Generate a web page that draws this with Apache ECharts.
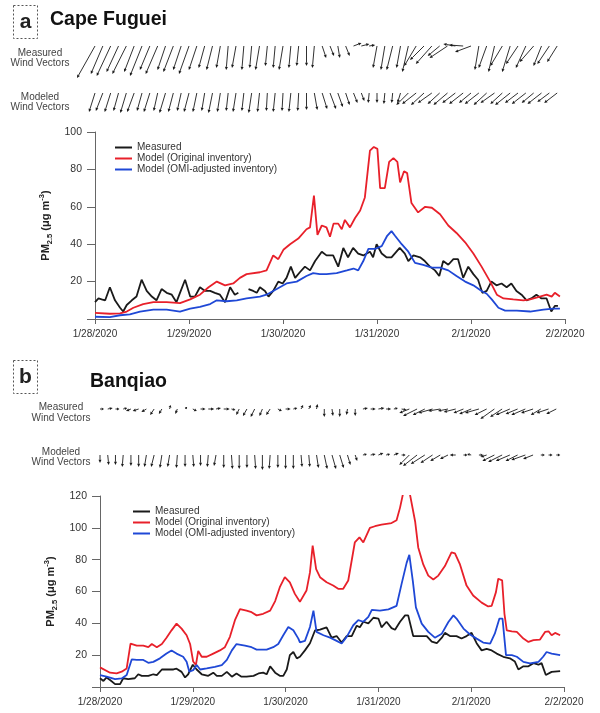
<!DOCTYPE html>
<html><head><meta charset="utf-8">
<script src="https://cdn.jsdelivr.net/npm/echarts@6/dist/echarts.min.js"></script>
<style>html,body{margin:0;padding:0;background:#fff}#c{width:600px;height:713px}</style>
</head><body><div id="c"></div>
<script>
// ---------- DATA ----------
const dateLabels = ['1/28/2020','1/29/2020','1/30/2020','1/31/2020','2/1/2020','2/2/2020'];
const seriesNames = ['Measured','Model (Original inventory)','Model (OMI-adjusted inventory)'];

// Panel a: Cape Fuguei, [hour since 1/28 00:00, PM2.5]
const measA = [[0,9],[0.9,11],[1.7,10.5],[2.6,10],[3.8,17],[5.1,10],[6.4,6],[7.2,4],[8.1,7.5],[9.4,10],[10.6,12],[11.9,21],[13.2,15],[14.5,12],[15.7,10],[17,16],[18.3,14],[19.6,13],[20.8,9],[21.7,14],[23,21],[24.3,12],[25.5,12],[26.8,17],[28.1,15],[29.4,15],[30.6,14],[31.9,13],[33.2,9],[34.5,17],[35.7,13],[36.6,14],[37.8,null],[39.2,16],[40.4,15],[41.3,14],[42.1,17],[43.4,15],[44.3,12],[45.5,15],[46.8,20],[47.9,19],[48.9,22],[50,28],[51.1,22],[52.3,25],[53.6,28],[54.9,26],[56.2,31],[57.9,36],[59.1,34],[60.8,34],[62.1,28],[63.4,38],[64.6,33],[65.9,38],[67.2,35],[68.5,34],[70.2,36],[71,33],[71.9,40],[73.2,35],[74.4,33],[75.7,33],[77.8,38],[79.1,35],[80,31],[81.3,34],[83,33],[84.2,31],[85.5,28],[86.8,26],[87.9,23],[88.9,31],[90.2,29],[91.5,32],[92.7,32],[94,22],[95.3,28],[96.6,24],[97.8,21],[98.9,14],[100,15],[101.2,20],[102.5,18],[103.8,19],[105.1,17],[106.3,19],[107.6,15],[108.9,13],[110.2,10],[111.4,11],[112.7,13],[114,11],[115.3,11],[116.5,4],[117.4,7],[118.2,7]];
const origA = [[0,3.3],[3.8,2.8],[6.4,3],[8.1,4],[9.8,6],[12.3,8],[14.9,9],[18.3,9],[21.7,8.5],[24.3,10.5],[26.8,13],[29,17],[31.1,20],[33.2,18],[35.3,19],[37,22],[38.7,24],[42.1,25],[43.8,26],[45.5,34],[46.8,32],[48.1,37],[49.8,40],[51.9,43],[54,48],[54.9,49],[55.9,66],[56.8,45],[57.9,50],[59.1,49],[60,44],[60.9,51],[62.1,51],[63,48],[63.8,53],[65.1,49],[66.4,54],[67.7,58],[68.9,65],[70.2,90],[71.2,92],[72.1,91],[72.8,70],[74,70],[75.1,84],[76.2,86],[77.2,84],[77.9,73],[78.9,79],[79.7,78],[80.8,62],[82.5,57],[84.3,60],[86,59.5],[88.1,56],[90.2,50],[92.3,46],[94.5,41],[96.6,35],[98.7,28],[100.9,20],[102.6,13],[104.3,11],[106.8,10.5],[109.4,10],[111.1,10.5],[113.6,12],[115.3,13],[116.6,12],[117.4,14],[118.7,12]];
const omiA = [[0,1.2],[3.8,1],[6.4,2],[8.9,2.5],[11.5,4],[14.9,5],[18.3,5],[21.7,4],[24.3,5.5],[26.8,6.5],[29.4,8],[31.1,10],[33.6,9.5],[36.2,10],[38.7,11],[42.1,12],[43.8,13],[46.4,16],[48.9,19],[51.5,20],[54,23],[55.7,24.5],[57.4,24],[59.1,24],[61.7,24.5],[64.3,26],[66,27],[67.2,26],[68.5,31],[69.8,37.5],[71.5,37.5],[73.2,39],[74.6,44.5],[75.7,47],[76.6,44.5],[78.3,40],[80,36],[81.7,30],[83.8,29],[86,27.5],[88.1,27.5],[90.2,26],[92.3,23],[94.5,20],[96.6,18],[98.7,15],[100,13.5],[101.3,10.5],[103,6],[104.7,4.5],[107.7,4.5],[111.1,4],[114.5,5],[117,5.5],[118.7,5.5]];

// Panel b: Banqiao
const measB = [[0,5.5],[0.9,3.8],[1.7,6],[2.6,4.4],[3.9,1.8],[5.2,1.8],[6,5.5],[7.3,5],[9,5.5],[9.9,8],[10.8,7],[12.5,7],[13.8,8],[14.7,7.5],[16,11],[19,11],[19.8,11.5],[21.1,9.5],[22,6],[22.8,8],[24,14],[25,11],[26.3,8],[28,7],[29.3,9],[30.2,7],[31.5,7],[32.8,9.5],[34.1,6.5],[35.3,8.5],[36.6,6.5],[37.9,6.5],[39.7,7],[41,8.5],[42.2,9],[43.1,8],[44,13],[45.3,9],[46.5,7],[47.4,7],[48.3,11],[49.1,20],[50,22],[50.9,18],[51.7,19],[53,23],[54.3,27.5],[55.6,35.5],[56.9,36],[58.6,37.5],[59.9,31],[61.2,32],[62.5,28],[63.8,32],[65.1,32],[66.4,38.5],[67.2,37.5],[68.1,41],[69.4,40],[70.7,43.5],[72,43],[72.8,37.5],[74.1,41],[75.4,37],[76.3,36],[77.6,41],[78.9,45],[79.7,45],[81,32],[82.8,32],[84.5,32],[85.8,28.5],[87.1,27.5],[88.4,31],[89.2,34],[90.5,32],[92.2,32],[93.5,30.5],[94.8,32],[96.1,34],[97.4,27.5],[98.7,23],[100,24],[101.3,23],[102.6,21],[104.3,19],[106,18],[107.3,16],[108.2,11],[109.5,13],[110.8,13],[112.1,15],[113.4,14],[114.2,15],[115.3,7.5],[116.8,9.5],[119,10]];
const origB = [[0,12.3],[2.6,9],[4.3,8.5],[5.6,9.6],[6.9,11.7],[7.9,27.3],[9.5,26],[11.2,26],[12.5,25],[13.4,27],[14.7,25],[16,27],[17.2,31],[18.5,35.6],[19.8,39.8],[21.1,36.7],[22.4,32.5],[23.3,27],[24.1,16],[24.8,13.8],[25.4,22.7],[26.3,19],[27.6,19],[29.3,21],[31,23],[32.3,25],[33.6,31.5],[34.9,42],[36.2,49],[37.9,48],[39.2,47],[40.5,45],[42.2,46],[44,48],[45.3,54],[46.5,62.7],[47.8,69],[49.1,65.8],[50.4,58.5],[51.7,53.5],[53.4,60.6],[54.3,72],[55,88.8],[55.9,74],[56.9,69],[58.6,65.8],[60.3,63.8],[61.6,61.7],[62.9,61.7],[64.2,66.9],[65.9,90.8],[67.1,94],[68.1,90.8],[69.8,100],[71.1,101],[72.8,102],[75.4,103],[76.7,104.8],[77.6,112.7],[79.3,132],[81.5,104],[82.3,87.7],[83.6,77],[84.9,70],[86.2,67.5],[87.5,70],[89.2,76],[90.9,84.6],[91.8,84],[93.1,77],[94.8,63.7],[96.5,57.5],[98.7,53],[100.4,50.6],[101.3,51],[102.4,59.6],[103,68],[104,67],[104.6,46],[105.2,35.6],[106.5,35],[107.8,34.6],[109.5,30.4],[110.8,28.3],[112.1,29.4],[113.8,29.8],[115.1,34.6],[116,35],[116.8,32.5],[117.7,34],[119,32.5]];
const omiB = [[0,7.5],[1.7,6.5],[3.9,5],[5.6,5.4],[6.9,7.5],[8.2,17.3],[9.5,17],[11.2,17],[12.5,15.2],[13.8,15.8],[15.5,18],[17.2,21],[18.5,23],[19.8,21],[21.5,19],[22.4,15.8],[23.1,9.6],[24.1,10.6],[25,13.8],[25.9,11],[27.6,11.7],[29.7,12.7],[31.5,13.8],[32.8,17],[34.1,23],[35.3,27],[37.5,26],[39.2,25],[40.5,23.5],[43.1,23.5],[44.8,25],[46.1,27],[47.4,32.5],[48.7,37.7],[50,35.6],[51.3,30.4],[51.7,28],[53,29],[54.3,37.7],[55.2,48],[56,34.6],[57.8,32.5],[59.5,31],[61.2,29],[62.5,27.3],[63.8,31.5],[65.5,38.8],[66.8,42],[68.1,41],[69.4,44],[70.3,48.5],[72.4,48],[74.6,48.8],[76.7,51],[78,64.8],[79.3,78],[80,83],[80.9,66.7],[81.7,50],[83.2,39.8],[84.9,34.6],[86.6,31],[88.4,33.5],[90.1,40.8],[91.4,45],[92.2,43],[94,36.7],[95.7,33],[97.4,30.4],[99.1,27.9],[100.9,27.3],[102.1,33.5],[103.3,43],[104.1,43],[105,20],[106.5,20],[107.8,19],[109.5,15.8],[111.2,14.8],[113.4,15.8],[114.6,19],[115.5,22],[116.8,21],[119,20]];

// Wind vectors: one arrow every 2 h, [u (east), v (north)] in m/s
const windHours = [0,2,4,6,8,10,12,14,16,18,20,22,24,26,28,30,32,34,36,38,40,42,44,46,48,50,52,54,56,58,60,62,64,66,68,70,72,74,76,78,80,82,84,86,88,90,92,94,96,98,100,102,104,106,108,110,112,114,116,118];
const windMeasA = [[-9,-16],[-6,-14],[-7,-15],[-6,-13],[-7,-14],[-5,-13],[-6,-15],[-5,-12],[-6,-14],[-4,-12],[-5,-13],[-4,-12],[-5,-14],[-4,-12],[-3,-11],[-3,-12],[-2,-11],[-1,-12],[-2,-11],[-1,-12],[-1,-11],[-2,-12],[-1,-10],[-1,-11],[-2,-12],[-1,-11],[-1,-10],[0,-10],[-1,-11],[2,-6],[2,-5],[1,-6],[2,-5],[4,1.5],[4,1],[3,0.5],[-2,-11],[-2,-12],[-3,-12],[-2,-11],[-3,-13],[-6,-10],[-7,-7],[-8,-9],[-6,-5],[-9,-6],[-6,1],[-7,0.5],[-8,-3],[-2,-12],[-4,-11],[-3,-13],[-6,-10],[-4,-13],[-6,-9],[-5,-11],[-7,-8],[-4,-10],[-6,-9],[-5,-8]];
const windModA = [[-3,-9.5],[-3.5,-9],[-3,-9.5],[-2.5,-9],[-3,-10],[-3.5,-9.5],[-2.5,-9],[-3,-9.5],[-2,-9],[-3,-10],[-2.5,-9.5],[-2,-9],[-2.5,-9.5],[-2,-9.5],[-1.5,-9],[-2,-10],[-1.5,-9.5],[-1,-9],[-1.5,-9.5],[-1,-9],[-1.5,-10],[-1,-9.5],[-0.5,-9],[-1,-9.5],[-0.5,-9],[-1,-9.5],[-0.5,-9],[0,-8.5],[1.5,-8.5],[2.5,-8],[3,-8],[2.5,-7],[2,-6],[2,-5],[1.5,-4],[-0.5,-5],[0,-5],[-0.5,-5.5],[-0.5,-5],[-1.5,-5],[-6,-6],[-7,-5.5],[-6.5,-6],[-7,-5],[-6,-5.5],[-7,-6],[-6.5,-5],[-7,-5.5],[-6,-5],[-7,-5.5],[-6.5,-6],[-7,-5],[-6,-5.5],[-7.5,-6],[-6.5,-5],[-7,-5.5],[-6,-5],[-7,-5.5],[-6,-4.5],[-6.5,-5]];
const windMeasB = [[2,0],[2.5,0.5],[2,0],[2,0.5],[-2.5,-1],[-3,-1],[-2.5,-1.5],[-2,-3],[-1.5,-2.5],[0.5,2],[-1,-2.5],[1,1],[2,-1],[2.5,0],[3,0],[2.5,0.5],[3,0],[2,-0.5],[-1.5,-3],[-2,-3.5],[-2,-4],[-1.5,-3.5],[-2,-3],[2,-1],[2.5,0],[2,0.5],[1,2],[1,2],[0.5,2.5],[0,-4],[0.5,-3.5],[0,-4],[-0.5,-3],[0,-3.5],[2.5,0.5],[2.5,0],[3,0.5],[2.5,0],[2,0.5],[2.5,-0.5],[-5,-2],[-7,-3.5],[-6,-3],[-7,-2],[-6,-1],[-5,-1],[-6,-1.5],[-5,-2],[-6,-2.5],[-7,-2],[-6,-3],[-7,-5],[-6,-4],[-7,-3],[-6,-2.5],[-7,-3],[-6,-2],[-5,-3],[-6,-2],[-5,-2.5]];
const windModB = [[0,-4],[0.5,-5],[0,-5],[-0.5,-6],[0,-5.5],[0,-6],[-1,-6],[-1.5,-6],[-1,-6.5],[-1,-6],[-0.5,-6.5],[0,-6],[0.5,-6],[0,-5.5],[-0.5,-6],[-1,-5.5],[0,-6.5],[0.5,-7],[0,-7],[0,-6.5],[0.5,-7],[0,-7.5],[-0.5,-7],[0,-6.5],[0,-7],[0,-7],[0.5,-6],[0.5,-6],[1,-6.5],[1.5,-7],[2,-7],[2,-6.5],[1.5,-5],[1,-3],[2,0.5],[2.5,0.5],[2.5,1],[2,0.5],[2.5,1],[2,0],[-5,-5],[-7,-5.5],[-7,-4.5],[-6,-4],[-5,-3],[-4,-2],[-3,0],[2,0],[-2,0.5],[2,0],[-3,-1],[-6,-3],[-7,-3.5],[-7,-3],[-6,-3],[-7,-2.5],[-5,-2],[2,0],[2,0],[2,0]];

// ---------- CHART ----------
const FONT = 'Liberation Sans, Arial, sans-serif';
const COLORS = ['#1a1a1a', '#e8202a', '#1f48d6'];
const S = 2; // px per m/s

function windData(arr){ return arr.map((uv,i)=>[windHours[i],0,uv[0],uv[1]]); }

function arrowItem(params, api){
  const h = api.value(0), u = api.value(2), v = api.value(3);
  const p0 = api.coord([h, 0]);
  const dx = u*S, dy = -v*S;
  const len = Math.hypot(dx, dy) || 0.001;
  const ux = dx/len, uy = dy/len;
  const p1 = [p0[0]+dx, p0[1]+dy];
  const hl = Math.min(3.2, len*0.6), hw = 1.5;
  const b = [p1[0]-ux*hl, p1[1]-uy*hl];
  return {type:'group', children:[
    {type:'line', shape:{x1:p0[0],y1:p0[1],x2:b[0],y2:b[1]}, style:{stroke:'#1a1a1a', lineWidth:0.9}},
    {type:'polygon', shape:{points:[p1,[b[0]-uy*hw,b[1]+ux*hw],[b[0]+uy*hw,b[1]-ux*hw]]}, style:{fill:'#1a1a1a'}}
  ]};
}

const gridA = {left:95, right:35};
const gridB = {left:100, right:36};
const grids = [
  {left:gridA.left, right:gridA.right, top:132, height:187},
  {left:gridB.left, right:gridB.right, top:496, height:191},
  {left:gridA.left, right:gridA.right, top:45, height:2},
  {left:gridA.left, right:gridA.right, top:92, height:2},
  {left:gridB.left, right:gridB.right, top:408, height:2},
  {left:gridB.left, right:gridB.right, top:454, height:2}
];

function xMain(gi){
  return {type:'value', gridIndex:gi, min:0, max:120, interval:24,
    axisLine:{lineStyle:{color:'#666', width:1}},
    axisTick:{length:5, lineStyle:{color:'#666'}},
    axisLabel:{margin:10, fontSize:10, color:'#333', fontFamily:FONT, formatter:v=>dateLabels[Math.round(v/24)]},
    splitLine:{show:false}};
}
function yMain(gi, max){
  return {type:'value', gridIndex:gi, min:0, max:max, interval:20,
    name:'PM{sub|2.5} (μg m{sup|-3})', nameLocation:'middle', nameGap:40, nameRotate:90,
    nameTextStyle:{fontSize:11, fontWeight:'bold', color:'#222', fontFamily:FONT, lineHeight:16,
      rich:{sub:{fontSize:7.5, fontWeight:'bold', verticalAlign:'bottom', fontFamily:FONT, color:'#222'},
            sup:{fontSize:7.5, fontWeight:'bold', verticalAlign:'top', fontFamily:FONT, color:'#222'}}},
    axisLine:{show:true, lineStyle:{color:'#666', width:1}},
    axisTick:{show:true, length:8, lineStyle:{color:'#666'}},
    axisLabel:{margin:13, fontSize:10.5, color:'#333', fontFamily:FONT, formatter:v=> v===0?'':String(v)},
    splitLine:{show:false}};
}
function xHidden(gi){ return {type:'value', gridIndex:gi, min:0, max:120, show:false}; }
function yHidden(gi){ return {type:'value', gridIndex:gi, min:-1, max:1, show:false}; }

function lineSeries(name, data, ci, idx){
  return {type:'line', name:name, data:data, xAxisIndex:idx, yAxisIndex:idx, showSymbol:false, symbol:'none',
    connectNulls:false, color:COLORS[ci], lineStyle:{width:1.8, color:COLORS[ci]}, clip:true, animation:false};
}
function windSeries(arr, idx){
  return {type:'custom', data:windData(arr), xAxisIndex:idx, yAxisIndex:idx, encode:{x:0,y:1},
    renderItem:arrowItem, clip:false, silent:true, animation:false};
}

const legendCommon = {orient:'vertical', icon:'rect', itemWidth:17, itemHeight:2, itemGap:0,
  textStyle:{fontSize:10, color:'#333', fontFamily:FONT, lineHeight:11}, data:seriesNames, selectedMode:false};

function txt(x,y,t,size,bold,color,align){
  return {type:'text', x:x, y:y, style:{text:t, font:(bold?'bold ':'')+size+'px '+FONT, fill:color||'#333', align:align||'left', verticalAlign:'middle'}};
}
function box(x,y,w,h){
  return {type:'rect', shape:{x:x,y:y,width:w,height:h}, style:{fill:'none', stroke:'#555', lineWidth:1, lineDash:[2,2]}};
}

const chart = echarts.init(document.getElementById('c'), null, {renderer:'canvas'});
chart.setOption({
  backgroundColor:'#fff',
  animation:false,
  grid: grids,
  xAxis:[xMain(0), xMain(1), xHidden(2), xHidden(3), xHidden(4), xHidden(5)],
  yAxis:[yMain(0,100), yMain(1,120), yHidden(2), yHidden(3), yHidden(4), yHidden(5)],
  legend:[
    Object.assign({left:110, top:137}, legendCommon),
    Object.assign({left:128, top:501}, legendCommon)
  ],
  graphic:[
    box(13.5,5.5,24,33), txt(25.5,22,'a',21,true,'#222','center'),
    txt(50,20,'Cape Fuguei',19.5,true,'#111'),
    txt(40,53,'Measured',10,false,'#444','center'), txt(40,63,'Wind Vectors',10,false,'#444','center'),
    txt(40,97,'Modeled',10,false,'#444','center'), txt(40,107,'Wind Vectors',10,false,'#444','center'),
    box(13.5,360.5,24,33), txt(25.5,377,'b',21,true,'#222','center'),
    txt(90,382,'Banqiao',19.5,true,'#111'),
    txt(61,407,'Measured',10,false,'#444','center'), txt(61,418,'Wind Vectors',10,false,'#444','center'),
    txt(61,452,'Modeled',10,false,'#444','center'), txt(61,462,'Wind Vectors',10,false,'#444','center')
  ],
  series:[
    lineSeries(seriesNames[0], measA, 0, 0),
    lineSeries(seriesNames[1], origA, 1, 0),
    lineSeries(seriesNames[2], omiA, 2, 0),
    lineSeries(seriesNames[0], measB, 0, 1),
    lineSeries(seriesNames[1], origB, 1, 1),
    lineSeries(seriesNames[2], omiB, 2, 1),
    windSeries(windMeasA, 2),
    windSeries(windModA, 3),
    windSeries(windMeasB, 4),
    windSeries(windModB, 5)
  ]
});
</script></body></html>
